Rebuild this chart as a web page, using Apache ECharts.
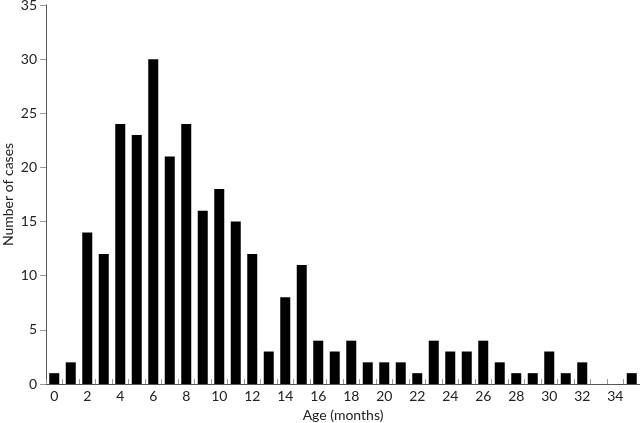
<!DOCTYPE html>
<html>
<head>
<meta charset="utf-8">
<script src="https://cdn.jsdelivr.net/npm/echarts@6/dist/echarts.min.js"></script>
<style>
  html, body { margin: 0; padding: 0; background: #fff; }
  #chart { width: 640px; height: 423px; }
</style>
</head>
<body>
<div id="chart"></div>
<script>
// age in months
const ages = []
for (let i = 0; i <= 35; i++) ages.push(String(i))
// number of cases per month of age
const cases = [1, 2, 14, 12, 24, 23, 30, 21, 24, 16, 18, 15, 12, 3, 8, 11, 4, 3, 4, 2,
  2, 2, 1, 4, 3, 3, 4, 2, 1, 1, 3, 1, 2, 0, 0, 1]

const font = 'Lato, "DejaVu Sans", sans-serif'
const chart = echarts.init(document.getElementById('chart'))
chart.setOption({
  animation: false,
  textStyle: { fontFamily: font },
  grid: { left: 46, right: 0, top: 5, bottom: 39, containLabel: false, outerBoundsMode: 'none' },
  xAxis: {
    type: 'category',
    data: ages,
    boundaryGap: true,
    name: 'Age (months)',
    nameLocation: 'middle',
    nameGap: 24,
    nameMoveOverlap: false,
    nameTextStyle: { fontSize: 14, color: '#222', fontFamily: font },
    axisLine: { lineStyle: { color: '#555', width: 1 } },
    axisTick: { show: true, inside: true, length: 5, interval: 0, lineStyle: { color: '#999' } },
    axisLabel: { interval: 1, margin: 5, fontSize: 14, color: '#222', fontFamily: font }
  },
  yAxis: {
    type: 'value',
    min: 0,
    max: 35,
    interval: 5,
    name: 'Number of cases',
    nameLocation: 'middle',
    nameGap: 31,
    nameMoveOverlap: false,
    nameTextStyle: { fontSize: 14, color: '#222', fontFamily: font },
    axisLine: { show: true, lineStyle: { color: '#555', width: 1 } },
    axisTick: { show: true, length: 6, lineStyle: { color: '#999' } },
    axisLabel: { margin: 9, fontSize: 14, color: '#222', fontFamily: font },
    splitLine: { show: false }
  },
  series: [
    {
      type: 'bar',
      data: cases,
      barWidth: 10,
      itemStyle: { color: '#000' }
    }
  ]
})
</script>
</body>
</html>
